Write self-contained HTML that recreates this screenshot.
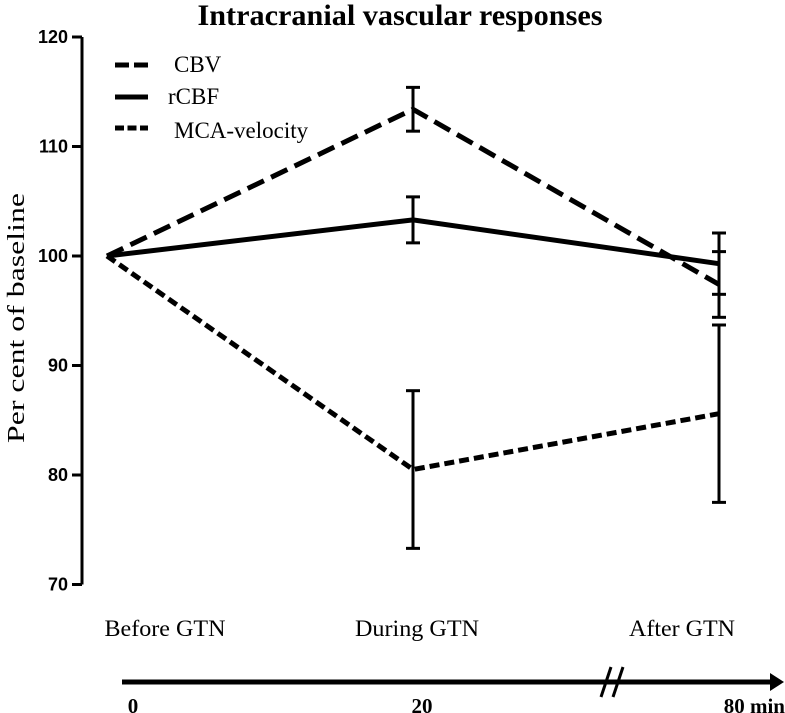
<!DOCTYPE html>
<html><head><meta charset="utf-8"><style>
html,body{margin:0;padding:0;background:#fff;}
svg{display:block;}
.serif{font-family:"Liberation Serif",serif;}
.sans{font-family:"Liberation Sans",sans-serif;font-weight:bold;}
</style></head><body>
<svg id="chart" width="785" height="713" viewBox="0 0 785 713">
<text class="serif" x="400" y="25" font-size="30" font-weight="bold" text-anchor="middle" textLength="405" lengthAdjust="spacingAndGlyphs">Intracranial vascular responses</text>
<text class="serif" transform="translate(24,318) rotate(-90)" font-size="24" text-anchor="middle" textLength="250" lengthAdjust="spacingAndGlyphs">Per cent of baseline</text>
<g id="yaxis"></g>
<g id="series"></g>
<g id="legend"></g>
<g id="cats"></g>
<g>
<line x1="122" y1="682" x2="772" y2="682" stroke="#000" stroke-width="5"/>
<polygon points="770,673 784,682 770,691" fill="#000"/>
<line x1="601" y1="697" x2="611" y2="667" stroke="#000" stroke-width="3"/>
<line x1="613" y1="697" x2="623" y2="667" stroke="#000" stroke-width="3"/>
<text class="serif" x="133" y="713" font-size="21" font-weight="bold" text-anchor="middle">0</text>
<text class="serif" x="422" y="713" font-size="21" font-weight="bold" text-anchor="middle">20</text>
<text class="serif" x="785" y="713" font-size="21" font-weight="bold" text-anchor="end">80 min</text>
</g>
</svg>
<script>
const categories = ["Before GTN","During GTN","After GTN"];
const yTicks = [70,80,90,100,110,120];
const seriesNames = ["CBV","rCBF","MCA-velocity"];
const cbvValues = [100,113.4,97.4];
const cbvErr = [0,2.0,3.0];
const rcbfValues = [100,103.3,99.3];
const rcbfErr = [0,2.1,2.8];
const mcaValues = [100,80.5,85.6];
const mcaErr = [0,7.2,8.1];

const NS="http://www.w3.org/2000/svg";
function xs(i){return 107+i*306;}
function ys(v){return 256-(v-100)*10.95;}
function mk(tag,attrs,parent){const e=document.createElementNS(NS,tag);for(const k in attrs)e.setAttribute(k,attrs[k]);parent.appendChild(e);return e;}
const yg=document.getElementById('yaxis');
mk('line',{x1:82,y1:ys(120),x2:82,y2:ys(70),stroke:'#000','stroke-width':3},yg);
yTicks.forEach(t=>{
  const l=mk('line',{x1:72,y1:ys(t),x2:82,y2:ys(t),stroke:'#000','stroke-width':3},yg);
  
  
  const tx=mk('text',{x:68,y:ys(t)+6,'font-size':18,'text-anchor':'end',class:'sans'},yg);
  tx.textContent=t;
  
  
});
const sg=document.getElementById('series');
const styles=[{d:'18 8'},{d:'none'},{d:'10 5'}];
[[cbvValues,cbvErr],[rcbfValues,rcbfErr],[mcaValues,mcaErr]].forEach((s,k)=>{
  const pts=s[0].map((v,i)=>xs(i)+','+ys(v)).join(' ');
  const p=mk('polyline',{points:pts,fill:'none',stroke:'#000','stroke-width':5,'stroke-dasharray':styles[k].d},sg);
  
  
  s[0].forEach((v,i)=>{
    if(!s[1][i])return;
    const x=xs(i),t=ys(v+s[1][i]),b=ys(v-s[1][i]);
    const g=mk('g',{stroke:'#000','stroke-width':3},sg);
    
    
    mk('line',{x1:x,y1:t,x2:x,y2:b},g);
    mk('line',{x1:x-7,y1:t,x2:x+7,y2:t},g);
    mk('line',{x1:x-7,y1:b,x2:x+7,y2:b},g);
  });
});
const lg=document.getElementById('legend');
const ly=[65,97,128],lx=[174,168,174],lty=[72,104,138];
seriesNames.forEach((n,k)=>{
  const l=mk('line',{x1:115,y1:ly[k],x2:148,y2:ly[k],stroke:'#000','stroke-width':5,'stroke-dasharray':k===0?'14 5':(k===2?'9 3.5':'none')},lg);
  
  
  const t=mk('text',{x:lx[k],y:lty[k],'font-size':23,class:'serif'},lg);
  t.textContent=n;
  
  
});
const cg=document.getElementById('cats');
const cx=[165,417,682],cw=[121,124,106];
categories.forEach((c,i)=>{
  const t=mk('text',{x:cx[i],y:636,'font-size':23,'text-anchor':'middle',class:'serif',textLength:cw[i],lengthAdjust:'spacingAndGlyphs'},cg);
  t.textContent=c;
  
  
});
</script>
</body></html>
